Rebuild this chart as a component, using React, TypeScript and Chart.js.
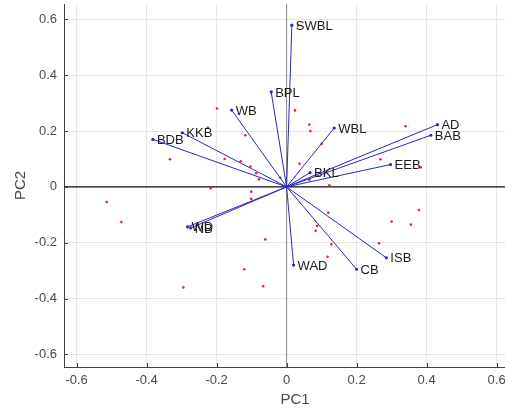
import React, { useEffect, useRef } from 'react';
import { Chart, registerables } from 'chart.js';

Chart.register(...registerables);

// Loading vectors (variables)
const vectorLabels = ['SWBL', 'BPL', 'WB', 'WBL', 'AD', 'BAB', 'EEB', 'BKL', 'KKB', 'BDB', 'WD', 'NB', 'WAD', 'CB', 'ISB'];
const vectorX = [0.015, -0.044, -0.157, 0.136, 0.431, 0.412, 0.297, 0.067, -0.298, -0.382, -0.283, -0.274, 0.020, 0.200, 0.285];
const vectorY = [0.579, 0.340, 0.275, 0.211, 0.223, 0.185, 0.080, 0.051, 0.194, 0.170, -0.143, -0.147, -0.280, -0.295, -0.254];

// Observation scores
const scoreX = [-0.199, 0.024, 0.065, 0.068, 0.340, -0.225, -0.118, 0.100, -0.333, -0.177, -0.131, -0.103, 0.037, 0.268, 0.383, -0.087, -0.079, -0.018, 0.065, -0.217, 0.122, -0.101, -0.101, -0.514, -0.472, 0.119, 0.087, 0.083, 0.300, 0.378, 0.355, -0.061, 0.128, 0.264, 0.117, -0.121, -0.295, -0.067, 0.033];
const scoreY = [0.281, 0.274, 0.223, 0.200, 0.217, 0.212, 0.185, 0.154, 0.099, 0.100, 0.092, 0.073, 0.083, 0.099, 0.070, 0.049, 0.027, 0.033, 0.025, -0.005, 0.006, -0.017, -0.043, -0.054, -0.126, -0.093, -0.140, -0.157, -0.124, -0.083, -0.135, -0.188, -0.206, -0.202, -0.250, -0.295, -0.360, -0.356, 0.578];

const tickValues = [-0.6, -0.4, -0.2, 0, 0.2, 0.4, 0.6];
const tickLabels = ['-0.6', '-0.4', '-0.2', '0', '0.2', '0.4', '0.6'];
const xTitle = 'PC1';
const yTitle = 'PC2';

const FONT = '"Liberation Sans", Arial, sans-serif';
const VEC_COLOR = 'rgb(40,40,190)';

const labelPlugin = {
  id: 'biplotExtras',
  afterDatasetsDraw(chart: any) {
    const { ctx, scales, chartArea } = chart;
    const xs = scales.x;
    const ys = scales.y;
    ctx.save();
    // inner tick marks
    ctx.strokeStyle = '#404040';
    ctx.lineWidth = 1;
    tickValues.forEach((v) => {
      const px = Math.round(xs.getPixelForValue(v)) + 0.5;
      ctx.beginPath();
      ctx.moveTo(px, chartArea.bottom);
      ctx.lineTo(px, chartArea.bottom - 4);
      ctx.stroke();
      const py = Math.round(ys.getPixelForValue(v)) + 0.5;
      ctx.beginPath();
      ctx.moveTo(chartArea.left, py);
      ctx.lineTo(chartArea.left + 4, py);
      ctx.stroke();
    });
    // vector labels
    ctx.fillStyle = '#1a1a1a';
    ctx.font = `13px ${FONT}`;
    ctx.textAlign = 'left';
    ctx.textBaseline = 'middle';
    vectorLabels.forEach((lab, i) => {
      const px = xs.getPixelForValue(vectorX[i]);
      const py = ys.getPixelForValue(vectorY[i]);
      ctx.fillText(lab, px + 4, py + 1);
    });
    ctx.restore();
  },
};

export default function App() {
  const canvasRef = useRef<HTMLCanvasElement | null>(null);

  useEffect(() => {
    const canvas = canvasRef.current;
    if (!canvas) return;

    const vectorDatasets = vectorLabels.map((lab, i) => ({
      type: 'line' as const,
      label: lab,
      data: [
        { x: 0, y: 0 },
        { x: vectorX[i], y: vectorY[i] },
      ],
      borderColor: VEC_COLOR,
      backgroundColor: VEC_COLOR,
      borderWidth: 1,
      pointRadius: [0, 1.6],
      pointBorderWidth: 0,
      fill: false,
      tension: 0,
    }));

    const chart = new Chart(canvas, {
      type: 'scatter',
      data: {
        datasets: [
          ...vectorDatasets,
          {
            type: 'scatter' as const,
            label: 'scores',
            data: scoreX.map((x, i) => ({ x, y: scoreY[i] })),
            backgroundColor: 'rgb(225,40,40)',
            borderWidth: 0,
            pointRadius: 1.3,
          },
          {
            type: 'line' as const,
            label: 'h0',
            data: [
              { x: -1, y: 0 },
              { x: 1, y: 0 },
            ],
            borderColor: '#111111',
            borderWidth: 1.2,
            pointRadius: 0,
            fill: false,
          },
          {
            type: 'line' as const,
            label: 'v0',
            data: [
              { x: 0, y: -1 },
              { x: 0, y: 1 },
            ],
            borderColor: '#8a8a8a',
            borderWidth: 1,
            pointRadius: 0,
            fill: false,
          },
        ] as any,
      },
      options: {
        animation: false,
        responsive: false,
        devicePixelRatio: 1,
        layout: { padding: 0 },
        plugins: {
          legend: { display: false },
          tooltip: { enabled: false },
        },
        scales: {
          x: {
            type: 'linear',
            min: -0.636,
            max: 0.684,
            afterBuildTicks: (s: any) => {
              s.ticks = tickValues.map((v) => ({ value: v }));
            },
            afterFit: (s: any) => {
              s.height = 44;
              s.paddingLeft = 0;
              s.paddingRight = 0;
            },
            ticks: {
              padding: 6,
              color: '#4a4a4a',
              font: { family: FONT, size: 13 },
              maxRotation: 0,
              autoSkip: false,
              callback: (_v: any, idx: number) => tickLabels[idx],
            },
            grid: { color: '#e6e6e6', lineWidth: 1, drawTicks: false },
            border: { display: true, color: '#404040', width: 1 },
            title: {
              display: true,
              text: xTitle,
              color: '#4a4a4a',
              font: { family: FONT, size: 15 },
              padding: { top: 0, bottom: 2 },
            },
          },
          y: {
            type: 'linear',
            min: -0.645,
            max: 0.655,
            afterBuildTicks: (s: any) => {
              s.ticks = tickValues.map((v) => ({ value: v }));
            },
            afterFit: (s: any) => {
              s.width = 64;
              s.paddingTop = 0;
              s.paddingBottom = 0;
            },
            ticks: {
              padding: 7,
              color: '#4a4a4a',
              font: { family: FONT, size: 13 },
              autoSkip: false,
              callback: (_v: any, idx: number) => tickLabels[idx],
            },
            grid: { color: '#e6e6e6', lineWidth: 1, drawTicks: false },
            border: { display: true, color: '#404040', width: 1 },
            title: {
              display: true,
              text: yTitle,
              color: '#4a4a4a',
              font: { family: FONT, size: 15 },
              padding: { top: 12, bottom: 0 },
            },
          },
        },
      },
      plugins: [labelPlugin],
    });

    return () => {
      chart.destroy();
    };
  }, []);

  return (
    <div
      style={{
        position: 'fixed',
        left: 0,
        top: 0,
        width: 505,
        height: 411,
        overflow: 'hidden',
        background: '#ffffff',
      }}
    >
      <canvas ref={canvasRef} width={530} height={411} style={{ display: 'block' }} />
    </div>
  );
}
